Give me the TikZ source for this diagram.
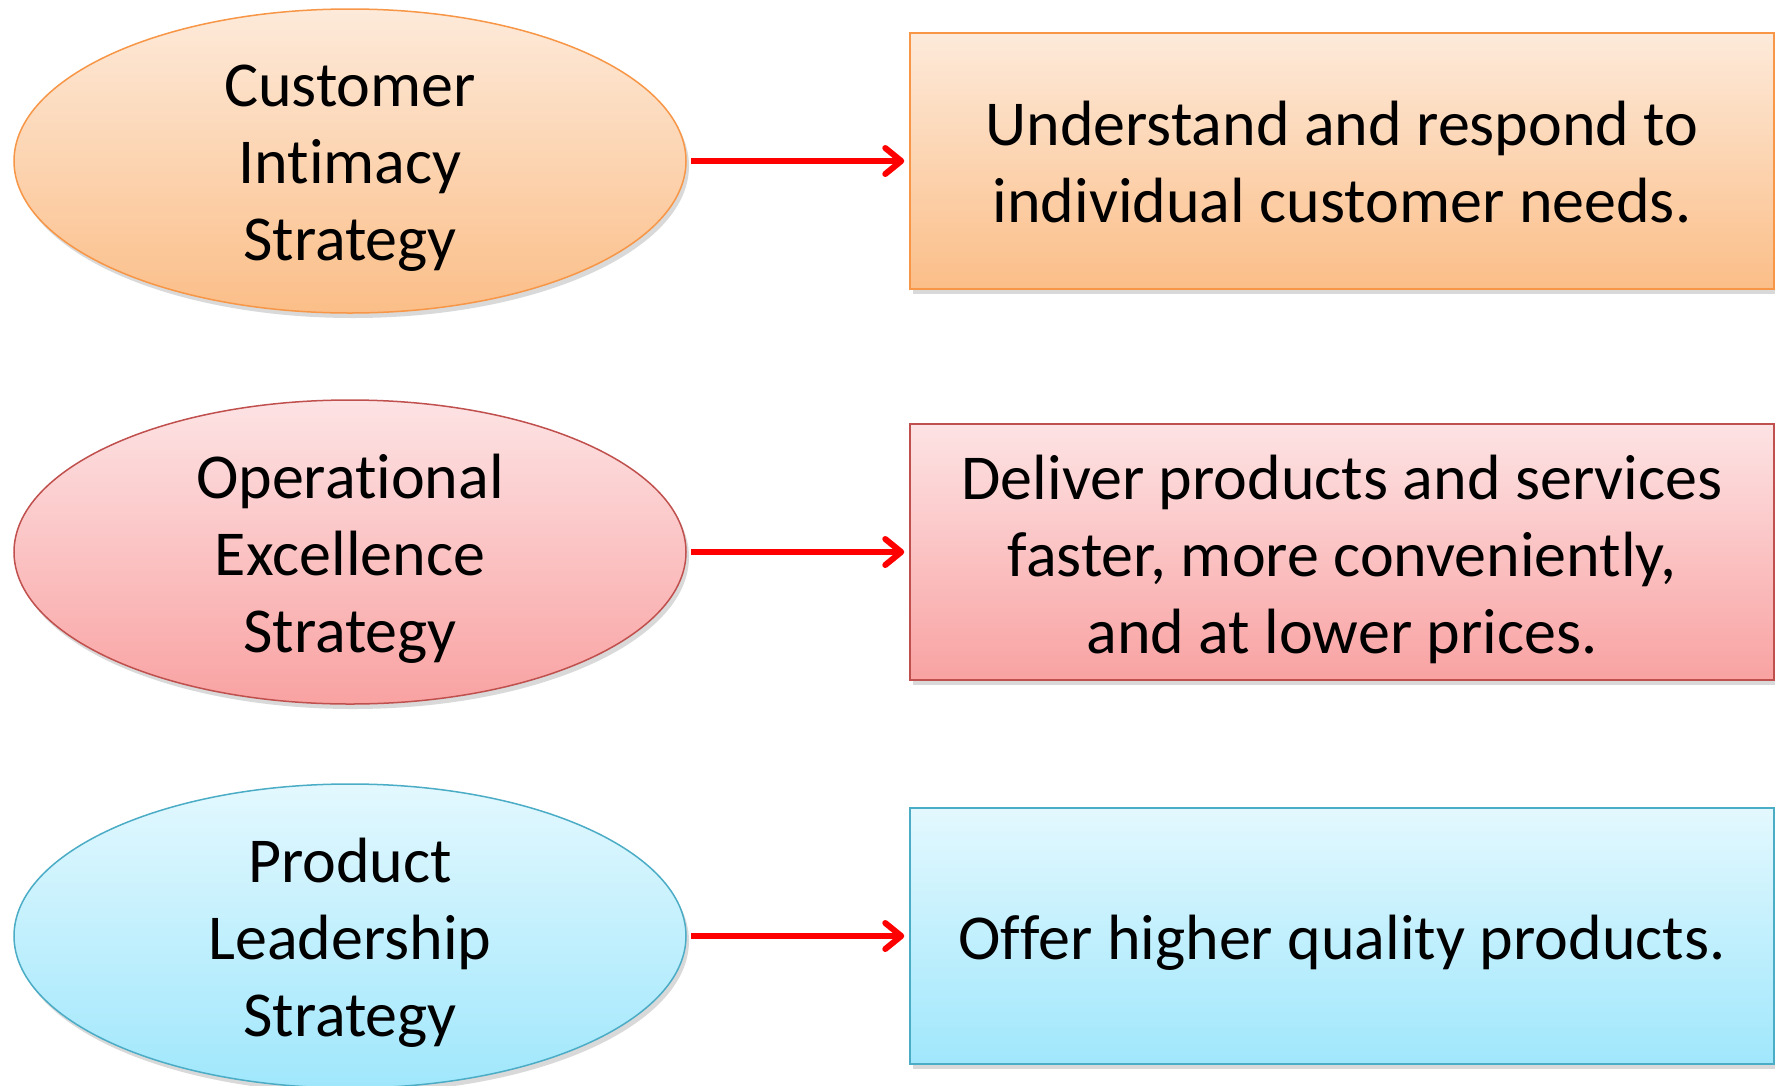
\documentclass[tikz,border=0pt]{standalone}
\usepackage{fontspec}
\setmainfont[Ligatures={NoCommon,NoContextual,NoRare}]{Carlito}
\newcommand{\nl}{\kern0pt{}}
\usetikzlibrary{shapes.geometric,arrows.meta,shadows}
\definecolor{orT}{HTML}{FDEADA}
\definecolor{orB}{HTML}{FBBE88}
\definecolor{orL}{HTML}{F79646}
\definecolor{rdT}{HTML}{FDE3E4}
\definecolor{rdB}{HTML}{F9A2A2}
\definecolor{rdL}{HTML}{C0504D}
\definecolor{blT}{HTML}{E3F8FE}
\definecolor{blB}{HTML}{A0E7FC}
\definecolor{blL}{HTML}{4BACC6}
\tikzset{
  shad/.style={drop shadow={shadow xshift=3pt,shadow yshift=-5pt,opacity=0.25,fill=black!60}},
  oval/.style={ellipse,inner sep=0pt,minimum width=672pt,minimum height=304pt,line width=1.5pt,shad},
  panel/.style={rectangle,inner sep=0pt,minimum width=864pt,minimum height=256pt,line width=1.5pt,shad},
  txt/.style={align=center,font=\fontsize{64}{77}\selectfont,text=black},
  conn/.style={draw=red,line width=6pt,-{Straight Barb[length=16pt,width=26pt,line cap=round,line join=round]}},
}
\begin{document}
\begin{tikzpicture}[x=1pt,y=1pt]
\useasboundingbox (0,0) rectangle (1775,-1085);
% row 1
\node[oval,draw=orL,top color=orT,bottom color=orB] (e1) at (350,-161) {};
\node[txt] (t1) at ([yshift=-7pt]e1.center) {Customer\\Int\nl imacy\\Strategy};
\node[panel,draw=orL,top color=orT,bottom color=orB] (b1) at (1342,-161) {};
\node[txt] (u1) at ([yshift=-1pt]b1.center) {Understand and respond to\\individual customer needs.};
% row 2
\node[oval,draw=rdL,top color=rdT,bottom color=rdB] (e2) at (350,-552) {};
\node[txt] (t2) at ([yshift=-7pt]e2.center) {Operat\nl ional\\Excellence\\Strategy};
\node[panel,draw=rdL,top color=rdT,bottom color=rdB] (b2) at (1342,-552) {};
\node[txt] (u2) at ([yshift=-7pt]b2.center) {Deliver products and services\\faster, more conveniently,\\and at lower prices.};
% row 3
\node[oval,draw=blL,top color=blT,bottom color=blB] (e3) at (350,-936) {};
\node[txt] (t3) at ([yshift=-7pt]e3.center) {Product\\Leadership\\Strategy};
\node[panel,draw=blL,top color=blT,bottom color=blB] (b3) at (1342,-936) {};
\node[txt] (u3) at ([yshift=-7pt]b3.center) {Of\nl fer higher quality products.};
% connectors
\draw[conn] ([xshift=4pt]e1.east) -- ([xshift=-5pt]b1.west);
\draw[conn] ([xshift=4pt]e2.east) -- ([xshift=-5pt]b2.west);
\draw[conn] ([xshift=4pt]e3.east) -- ([xshift=-5pt]b3.west);
\end{tikzpicture}
\end{document}
